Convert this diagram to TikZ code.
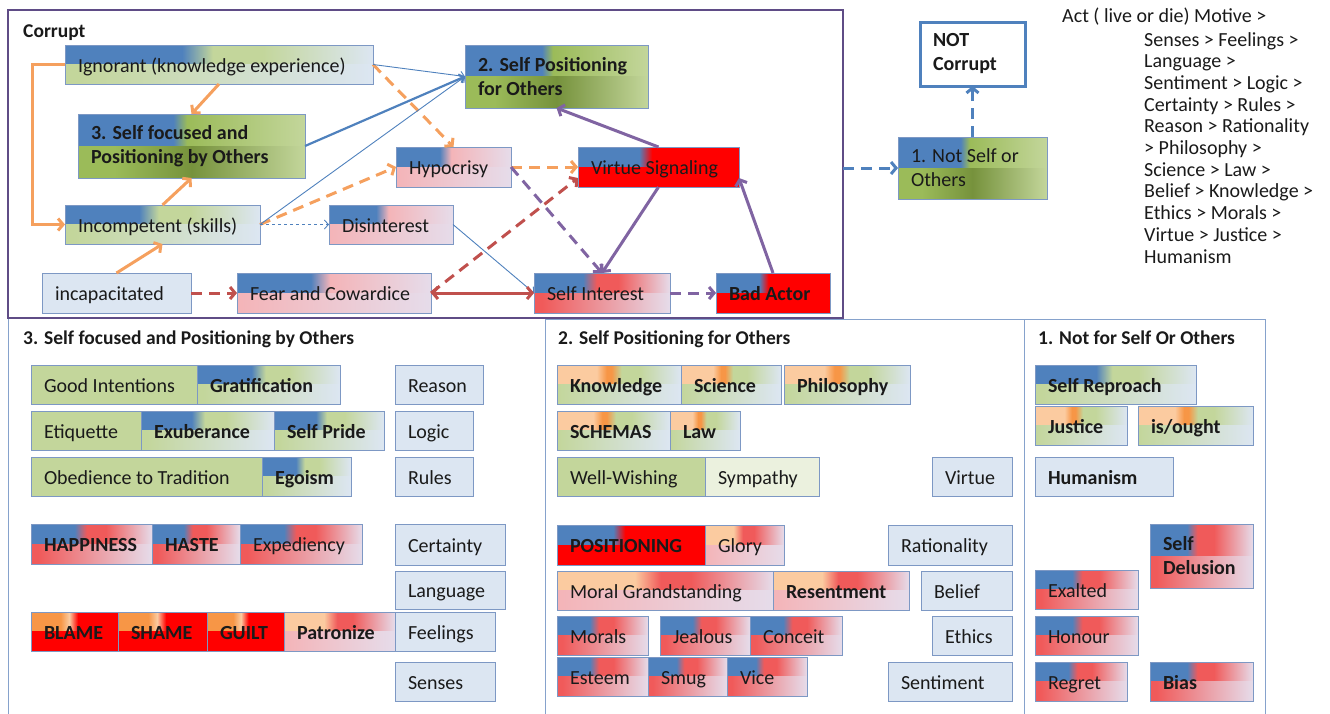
\documentclass[tikz,border=0pt]{standalone}
\usepackage{fontspec}
\setmainfont{Carlito}
\usetikzlibrary{arrows.meta, positioning}

\definecolor{cBlu}{HTML}{4F81BD}
\definecolor{cLbl}{HTML}{DCE6F2}
\definecolor{cPgr}{HTML}{C3D69B}
\definecolor{cPgn}{HTML}{EBF1DE}
\definecolor{cGrn}{HTML}{9BBB59}
\definecolor{cDgr}{HTML}{76923C}
\definecolor{cRed}{HTML}{FF0000}
\definecolor{cRos}{HTML}{F05A5A}
\definecolor{cPnk}{HTML}{F4B4B8}
\definecolor{cPnl}{HTML}{E6DCEA}
\definecolor{cPch}{HTML}{FBCBA0}
\definecolor{cOrg}{HTML}{F79646}
\definecolor{aOrg}{HTML}{F5A05E}
\definecolor{aPur}{HTML}{8064A2}
\definecolor{aRed}{HTML}{C0504D}
\definecolor{cFrm}{HTML}{5F4C86}
\definecolor{cPan}{HTML}{86A2CC}
\definecolor{cLin}{HTML}{7D98C4}
\definecolor{cInk}{HTML}{1A1A1A}

% two-band fills, top and bottom half of a box
\pgfdeclarehorizontalshading{bgTop}{100bp}{color(0bp)=(cBlu); color(44bp)=(cBlu); color(49bp)=(cPgr); color(57bp)=(cPgr); color(75bp)=(cLbl); color(100bp)=(cLbl)}
\pgfdeclarehorizontalshading{bgBot}{100bp}{color(0bp)=(cPgr); color(27bp)=(cPgr); color(75bp)=(cLbl); color(100bp)=(cLbl)}
\pgfdeclarehorizontalshading{bdTop}{100bp}{color(0bp)=(cBlu); color(46bp)=(cBlu); color(49bp)=(cGrn); color(75bp)=(cPgr); color(100bp)=(cPgr)}
\pgfdeclarehorizontalshading{bdBot}{100bp}{color(0bp)=(cGrn); color(33bp)=(cGrn); color(50bp)=(cDgr); color(75bp)=(cPgr); color(100bp)=(cPgr)}
\pgfdeclarehorizontalshading{brTop}{100bp}{color(0bp)=(cBlu); color(43bp)=(cBlu); color(48bp)=(cRos); color(56bp)=(cRos); color(75bp)=(cPnl); color(100bp)=(cPnl)}
\pgfdeclarehorizontalshading{brBot}{100bp}{color(0bp)=(cRos); color(28bp)=(cRos); color(75bp)=(cPnl); color(100bp)=(cPnl)}
\pgfdeclarehorizontalshading{bpTop}{100bp}{color(0bp)=(cBlu); color(44bp)=(cBlu); color(49bp)=(cPnk); color(75bp)=(cPnl); color(100bp)=(cPnl)}
\pgfdeclarehorizontalshading{bpBot}{100bp}{color(0bp)=(cPnk); color(25bp)=(cPnk); color(75bp)=(cPnl); color(100bp)=(cPnl)}
\pgfdeclarehorizontalshading{rrTop}{100bp}{color(0bp)=(cBlu); color(44bp)=(cBlu); color(48bp)=(cRed); color(100bp)=(cRed)}
\pgfdeclarehorizontalshading{rrBot}{100bp}{color(0bp)=(cRed); color(100bp)=(cRed)}
\pgfdeclarehorizontalshading{ogTop}{100bp}{color(0bp)=(cPch); color(41bp)=(cPch); color(45bp)=(cOrg); color(47bp)=(cOrg); color(51bp)=(cPgr); color(58bp)=(cPgr); color(75bp)=(cLbl); color(100bp)=(cLbl)}
\pgfdeclarehorizontalshading{ogBot}{100bp}{color(0bp)=(cPgr); color(25bp)=(cPgr); color(75bp)=(cLbl); color(100bp)=(cLbl)}
\pgfdeclarehorizontalshading{orTop}{100bp}{color(0bp)=(cOrg); color(42bp)=(cOrg); color(47bp)=(cPch); color(52bp)=(cRed); color(100bp)=(cRed)}
\pgfdeclarehorizontalshading{orBot}{100bp}{color(0bp)=(cRed); color(100bp)=(cRed)}
\pgfdeclarehorizontalshading{prTop}{100bp}{color(0bp)=(cPch); color(43bp)=(cPch); color(49bp)=(cRos); color(56bp)=(cRos); color(75bp)=(cPnl); color(100bp)=(cPnl)}
\pgfdeclarehorizontalshading{prBot}{100bp}{color(0bp)=(cPnk); color(25bp)=(cPnk); color(75bp)=(cPnl); color(100bp)=(cPnl)}

\newcommand{\bxfont}{\fontsize{20}{24}\selectfont}
\hyphenpenalty=10000
\exhyphenpenalty=10000

\begin{document}
\begin{tikzpicture}[x=1pt, y=-1pt,
    >={Straight Barb[length=5pt, width=12pt]},
    box/.style={rectangle, draw=cLin, line width=0.9pt, anchor=north west, inner xsep=13pt, inner ysep=0pt, outer sep=0pt, align=left, minimum height=39pt, font=\bxfont, text=cInk,
        execute at begin node={\spaceskip=0pt\xspaceskip=0pt}},
    cell/.style={box, text height=17pt, text depth=2pt,
        execute at begin node={\spaceskip=0pt\xspaceskip=0pt\hbox\bgroup}, execute at end node=\egroup},
    box2/.style={box, minimum height=64pt},
    wd/.code={\pgfmathsetlengthmacro\boxwd{#1-26}\tikzset{text width=\boxwd}},
    bold/.style={font=\bxfont\bfseries},
    duo/.style 2 args={path picture={
        \shade[shading=#1] (path picture bounding box.north west) rectangle (path picture bounding box.east);
        \shade[shading=#2] (path picture bounding box.west) rectangle (path picture bounding box.south east);}},
    lbl/.style={fill=cLbl},
    olv/.style={fill=cPgr},
    pgn/.style={fill=cPgn},
    bgr/.style={duo={bgTop}{bgBot}},
    bdk/.style={duo={bdTop}{bdBot}},
    brd/.style={duo={brTop}{brBot}},
    bpk/.style={duo={bpTop}{bpBot}},
    rrd/.style={duo={rrTop}{rrBot}},
    ogr/.style={duo={ogTop}{ogBot}},
    ord/.style={duo={orTop}{orBot}},
    prd/.style={duo={prTop}{prBot}},
    corrbox/.style={draw=cFrm, line width=2.6pt, anchor=north west, minimum width=835pt, minimum height=308pt, inner sep=0pt, outer sep=0pt},
    pane/.style={draw=cPan, line width=0.9pt, anchor=north west, minimum height=420pt, inner sep=0pt, outer sep=0pt},
    ttl/.style={anchor=west, inner sep=0pt, text height=14pt, text depth=4pt, font=\fontsize{19.5}{23}\selectfont\bfseries, text=cInk},
    note/.style={inner sep=0pt, align=left, font=\fontsize{20}{21.7}\selectfont, text=cInk},
    brk/.style={dash pattern=on 11pt off 7pt},
    oarr/.style={draw=aOrg, line width=3pt, ->},
    parr/.style={draw=aPur, line width=3pt, ->},
    rarr/.style={draw=aRed, line width=3pt, ->},
    barr/.style={draw=cBlu, line width=0.9pt, -{Straight Barb[length=4pt, width=9pt]}},
    bbarr/.style={draw=cBlu, line width=3pt, ->}
]
    \useasboundingbox (0,0) rectangle (1330,713);

    % Panels below
    \node[pane, minimum width=537pt] (pn3) at (8,318) {};
    \node[pane, minimum width=479pt] (pn2) at (545,319) {};
    \node[pane, minimum width=241pt] (pn1) at (1024,319) {};
    \node[ttl] (pt3) at (23,339) {3. Self focused and Positioning by Others};
    \node[ttl] (pt2) at (558,339) {2. Self Positioning for Others};
    \node[ttl] (pt1) at (1038,339) {1. Not for Self Or Others};

    % Corrupt frame
    \node[corrbox] (corr) at (8,10) {};
    \node[ttl] (corrt) at (23,32) {Corrupt};

    \node[cell, bgr, wd=308] (ign) at (65,45) {Ignorant (knowledge experience)};
    \node[box2, bdk, bold, wd=227] (foc) at (78,114) {3. Self focused and\\Positioning by Others};
    \node[cell, bgr, wd=195] (inc) at (65,205) {Incompetent (skills)};
    \node[cell, lbl, wd=149, minimum height=40pt] (cap) at (42,273) {incapacitated};
    \node[cell, bpk, wd=194, minimum height=40pt] (fear) at (237,273) {Fear and Cowardice};
    \node[cell, bpk, wd=124] (dis) at (329,205) {Disinterest};
    \node[cell, bpk, wd=115, minimum height=40pt] (hyp) at (396,147) {Hypocrisy};
    \node[box2, bdk, bold, wd=183, minimum height=63pt] (sp) at (465,45) {2. Self Positioning\\for Others};
    \node[cell, rrd, wd=161, minimum height=40pt] (vs) at (578,147) {Virtue Signaling};
    \node[cell, brd, wd=136, minimum height=40pt] (si) at (534,273) {Self Interest};
    \node[cell, rrd, bold, wd=114, minimum height=40pt] (ba) at (716,273) {Bad Actor};

    % Outside the frame
    \node[box2, bdk, wd=149, minimum height=62pt] (nso) at (898,137) {1. Not Self or\\Others};
    \node[box2, fill=white, draw=cBlu, line width=3pt, bold, wd=105] (nc) at (920,22) {NOT\\Corrupt};
    \node[note, anchor=north west] (act) at (1062,8) {Act ( live or die) Motive >};
    \node[note, anchor=north west] (chain) at (1144,32) {Senses > Feelings >\\Language >\\Sentiment > Logic >\\Certainty > Rules >\\Reason > Rationality\\> Philosophy >\\Science > Law >\\Belief > Knowledge >\\Ethics > Morals >\\Virtue > Justice >\\Humanism};

    % Panel 3
    \node[cell, olv, wd=166] (gi) at (31,365) {Good Intentions};
    \node[cell, bgr, bold, wd=143, right=0pt of gi] (gra) {Gratification};
    \node[cell, olv, wd=110] (eti) at (31,411) {Etiquette};
    \node[cell, bgr, bold, wd=133, right=0pt of eti] (exu) {Exuberance};
    \node[cell, bgr, bold, wd=110, right=0pt of exu] (spr) {Self Pride};
    \node[cell, olv, wd=231] (obe) at (31,457) {Obedience to Tradition};
    \node[cell, bgr, bold, wd=89, right=0pt of obe] (ego) {Egoism};
    \node[cell, brd, bold, wd=121, minimum height=40pt] (hap) at (31,524) {HAPPINESS};
    \node[cell, brd, bold, wd=88, minimum height=40pt, right=0pt of hap] (hst) {HASTE};
    \node[cell, brd, wd=122, minimum height=40pt, right=0pt of hst] (expd) {Expediency};
    \node[cell, ord, bold, wd=87] (bla) at (31,612) {BLAME};
    \node[cell, ord, bold, wd=89, right=0pt of bla] (sha) {SHAME};
    \node[cell, ord, bold, wd=77, right=0pt of sha] (gui) {GUILT};
    \node[cell, prd, bold, wd=111, right=0pt of gui] (pat) {Patronize};
    \node[cell, lbl, wd=100, right=0pt of pat] (fee) {Feelings};
    \node[cell, lbl, wd=88] (rea) at (395,365) {Reason};
    \node[cell, lbl, wd=78] (lgc) at (395,411) {Logic};
    \node[cell, lbl, wd=78] (rul) at (395,457) {Rules};
    \node[cell, lbl, wd=110, minimum height=41pt] (cer) at (395,524) {Certainty};
    \node[cell, lbl, wd=110, minimum height=38pt] (lan) at (395,571) {Language};
    \node[cell, lbl, wd=100] (sen) at (395,662) {Senses};

    % Panel 2
    \node[cell, ogr, bold, wd=124] (knw) at (557,365) {Knowledge};
    \node[cell, ogr, bold, wd=100, right=0pt of knw] (sci) {Science};
    \node[cell, ogr, bold, wd=126, right=3pt of sci] (phi) {Philosophy};
    \node[cell, ogr, bold, wd=113] (sch) at (557,411) {SCHEMAS};
    \node[cell, ogr, bold, wd=70, right=0pt of sch] (law) {Law};
    \node[cell, olv, wd=148] (wel) at (557,457) {Well-Wishing};
    \node[cell, pgn, wd=114, right=0pt of wel] (sym) {Sympathy};
    \node[cell, lbl, wd=80] (vrt) at (932,457) {Virtue};
    \node[cell, rrd, bold, wd=148, minimum height=40pt] (pos) at (557,525) {POSITIONING};
    \node[cell, prd, wd=79, minimum height=40pt, right=0pt of pos] (glo) {Glory};
    \node[cell, lbl, wd=124, minimum height=40pt] (rat) at (888,525) {Rationality};
    \node[cell, prd, wd=216] (mgr) at (557,571) {Moral Grandstanding};
    \node[cell, prd, bold, wd=136, right=0pt of mgr] (res) {Resentment};
    \node[cell, lbl, wd=91] (bel) at (921,571) {Belief};
    \node[cell, brd, wd=91] (mrl) at (557,616) {Morals};
    \node[cell, brd, wd=90] (jea) at (660,616) {Jealous};
    \node[cell, brd, wd=92, right=0pt of jea] (cnc) {Conceit};
    \node[cell, lbl, wd=80] (eth) at (932,616) {Ethics};
    \node[cell, brd, wd=91] (est) at (557,657) {Esteem};
    \node[cell, brd, wd=79, right=0pt of est] (smg) {Smug};
    \node[cell, brd, wd=80, right=0pt of smg] (vce) {Vice};
    \node[cell, lbl, wd=124] (snt) at (888,662) {Sentiment};

    % Panel 1
    \node[cell, bgr, bold, wd=161] (srp) at (1035,365) {Self Reproach};
    \node[cell, ogr, bold, wd=92] (jus) at (1035,406) {Justice};
    \node[cell, ogr, bold, wd=115] (iso) at (1138,406) {is/ought};
    \node[cell, lbl, bold, wd=138] (hum) at (1035,457) {Humanism};
    \node[box2, brd, bold, wd=103] (sdl) at (1150,524) {Self\\Delusion};
    \node[cell, brd, wd=103] (exl) at (1035,570) {Exalted};
    \node[cell, brd, wd=103] (hon) at (1035,616) {Honour};
    \node[cell, brd, wd=92] (rgt) at (1035,662) {Regret};
    \node[cell, brd, bold, wd=103] (bia) at (1150,662) {Bias};

    % Arrows
    \draw[oarr] (ign.west) -- ++(-33,0) |- (inc.west);
    \draw[oarr] (ign.south) -- (foc.north);
    \draw[oarr] (inc.north) -- (foc.south);
    \draw[oarr] (cap.north) -- (inc.south);
    \draw[oarr, brk] (ign.east) -- (hyp.north);
    \draw[oarr, brk] (inc.east) -- (hyp.west);
    \draw[oarr, brk] (hyp.east) -- (vs.west);
    \draw[barr] (ign.east) -- (sp.west);
    \draw[barr, line width=2.2pt] (foc.east) -- (sp.west);
    \draw[barr] (inc.east) -- (sp.west);
    \draw[barr, dashed] (inc.east) -- (dis.west);
    \draw[barr] (dis.east) -- (si.west);
    \draw[parr] (vs.north) -- (sp.south);
    \draw[parr] (vs.south) -- (si.north);
    \draw[parr] (ba.north) -- ([yshift=9pt]vs.south east);
    \draw[parr, brk] (hyp.east) -- (si.north);
    \draw[parr, brk] (si.east) -- (ba.west);
    \draw[rarr, brk] (cap.east) -- (fear.west);
    \draw[rarr, <->] (fear.east) -- (si.west);
    \draw[rarr, brk] (fear.east) -- ([yshift=9pt]vs.south west);
    \draw[bbarr, brk] (corr.east |- nso.west) -- (nso.west);
    \draw[bbarr, brk] (nso.north) -- (nc.south);

\end{tikzpicture}
\end{document}
